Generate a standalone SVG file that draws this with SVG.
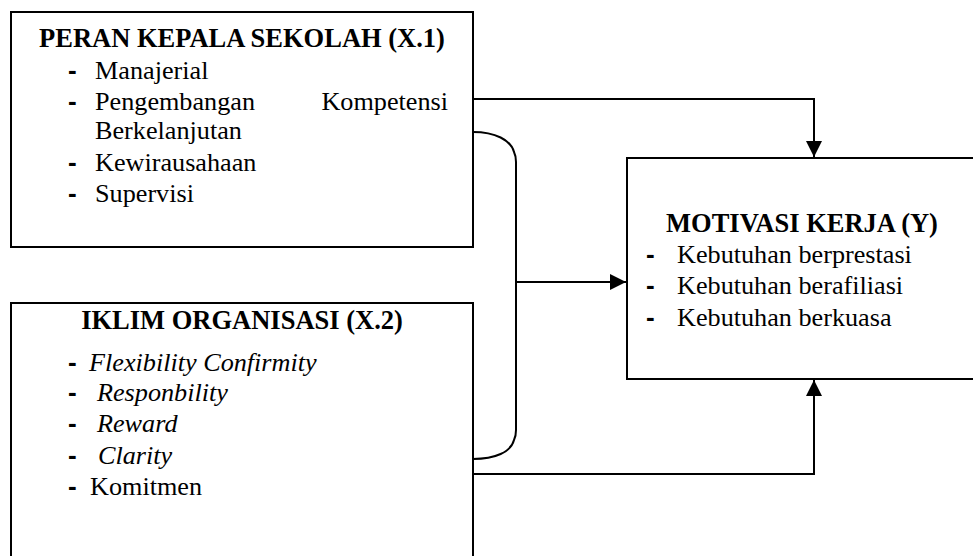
<svg xmlns="http://www.w3.org/2000/svg" width="973" height="556" viewBox="0 0 973 556">
<style>
  .box { fill: #fff; stroke: #000; stroke-width: 2; }
  .t { font-family: "Liberation Serif", "Times New Roman", serif; font-size: 26.2px; fill: #000; }
  .h { font-family: "Liberation Serif", "Times New Roman", serif; font-size: 26.5px; font-weight: bold; fill: #000; text-anchor: middle; }
  .d { font-family: "Liberation Sans", Arial, sans-serif; font-size: 26px; font-weight: bold; fill: #000; }
  .i { font-style: italic; }
  .ln { fill: none; stroke: #000; stroke-width: 2; }
</style>
<defs>
  <marker id="ah" viewBox="0 0 16 16" refX="16" refY="8" markerWidth="16" markerHeight="16" markerUnits="userSpaceOnUse" orient="auto">
    <path d="M0,0 L16,8 L0,16 Z" fill="#000"/>
  </marker>
</defs>
<rect width="973" height="556" fill="#fff"/>

<g id="node-x1">
  <rect class="box" x="11" y="12" width="462" height="235"/>
  <text class="h" x="242" y="47">PERAN KEPALA SEKOLAH (X.1)</text>
  <text class="d" x="68" y="79">-</text><text class="t" x="95" y="79">Manajerial</text>
  <text class="d" x="68" y="110">-</text><text class="t" y="110"><tspan x="95">Pengembangan</tspan><tspan x="448" text-anchor="end">Kompetensi</tspan></text>
  <text class="t" x="95" y="139">Berkelanjutan</text>
  <text class="d" x="68" y="171">-</text><text class="t" x="95" y="171">Kewirausahaan</text>
  <text class="d" x="68" y="202">-</text><text class="t" x="95" y="202">Supervisi</text>
</g>

<g id="node-x2">
  <rect class="box" x="11" y="303" width="462" height="270"/>
  <text class="h" x="242" y="329">IKLIM ORGANISASI (X.2)</text>
  <text class="d" x="68" y="371">-</text><text class="t i" x="89" y="371">Flexibility Confirmity</text>
  <text class="d" x="68" y="401">-</text><text class="t i" x="97" y="401">Responbility</text>
  <text class="d" x="68" y="432">-</text><text class="t i" x="97" y="432">Reward</text>
  <text class="d" x="68" y="464">-</text><text class="t i" x="98" y="464">Clarity</text>
  <text class="d" x="68" y="495">-</text><text class="t" x="90" y="495">Komitmen</text>
</g>

<g id="node-y">
  <rect class="box" x="627" y="158" width="370" height="221"/>
  <text class="h" x="802" y="232">MOTIVASI KERJA (Y)</text>
  <text class="d" x="646" y="263">-</text><text class="t" x="677" y="263">Kebutuhan berprestasi</text>
  <text class="d" x="646" y="294">-</text><text class="t" x="677" y="294">Kebutuhan berafiliasi</text>
  <text class="d" x="646" y="326">-</text><text class="t" x="677" y="326">Kebutuhan berkuasa</text>
</g>

<g id="connectors">
  <path class="ln" d="M473,99 H814 V157" marker-end="url(#ah)"/>
  <path class="ln" d="M473,474 H814 V380" marker-end="url(#ah)"/>
  <path class="ln" d="M473,132 C495,132 511,140 514,152 Q516,156 516,162 V430 Q516,436 514,440 C511,452 495,459 473,459"/>
  <path class="ln" d="M516,282 H626" marker-end="url(#ah)"/>
</g>
</svg>
